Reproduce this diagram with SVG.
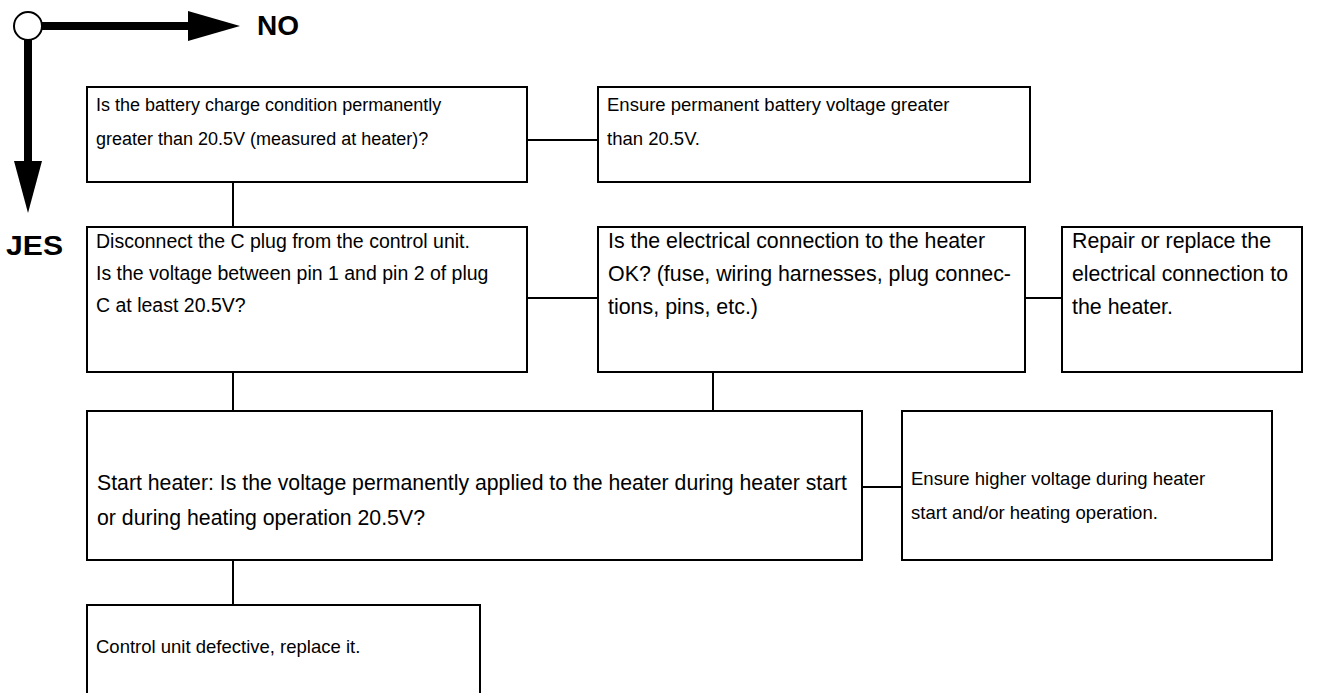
<svg xmlns="http://www.w3.org/2000/svg" width="1317" height="693" viewBox="0 0 1317 693">
<style>
.box{fill:#fff;stroke:#000;stroke-width:2}
.t{font-family:"Liberation Sans",Arial,sans-serif;font-size:18px;fill:#000}
.e{font-family:"Liberation Sans",Arial,sans-serif;font-size:18.5px;fill:#000}
.m{font-family:"Liberation Sans",Arial,sans-serif;font-size:19.5px;fill:#000}
.n{font-family:"Liberation Sans Narrow","Liberation Sans",Arial,sans-serif;font-size:22px;fill:#000}
.b{font-family:"Liberation Sans",Arial,sans-serif;font-size:28px;font-weight:bold;fill:#000}
.c{stroke:#000;stroke-width:2;fill:none}
.k{stroke:#000;stroke-width:8;fill:none}
</style>
<rect width="1317" height="693" fill="#fff"/>
<g id="legend">
<line class="k" x1="42" y1="26" x2="192" y2="26"/>
<polygon points="188,11 240,26 188,41" fill="#000"/>
<line class="k" x1="28" y1="40" x2="28" y2="165"/>
<polygon points="14,161 42,161 28,213" fill="#000"/>
<circle cx="28" cy="26" r="14" fill="#fff" stroke="#000" stroke-width="2"/>
<text class="b" x="257" y="35">NO</text>
<text class="b" x="6" y="255" textLength="57" lengthAdjust="spacingAndGlyphs">JES</text>
</g>
<g id="connectors">
<line class="c" x1="233" y1="182" x2="233" y2="227"/>
<line class="c" x1="527" y1="140" x2="598" y2="140"/>
<line class="c" x1="527" y1="298" x2="598" y2="298"/>
<line class="c" x1="1025" y1="298" x2="1062" y2="298"/>
<line class="c" x1="233" y1="372" x2="233" y2="411"/>
<line class="c" x1="713" y1="372" x2="713" y2="411"/>
<line class="c" x1="862" y1="487" x2="902" y2="487"/>
<line class="c" x1="233" y1="560" x2="233" y2="605"/>
</g>
<g id="n1">
<rect class="box" x="87" y="87" width="440" height="95"/>
<text class="t" x="96" y="111">Is the battery charge condition permanently</text>
<text class="t" x="96" y="145">greater than 20.5V (measured at heater)?</text>
</g>
<g id="n1no">
<rect class="box" x="598" y="87" width="432" height="95"/>
<text class="e" x="607" y="111">Ensure permanent battery voltage greater</text>
<text class="e" x="607" y="145">than 20.5V.</text>
</g>
<g id="n2">
<rect class="box" x="87" y="227" width="440" height="145"/>
<text class="m" x="96" y="248">Disconnect the C plug from the control unit.</text>
<text class="m" x="96" y="280">Is the voltage between pin 1 and pin 2 of plug</text>
<text class="m" x="96" y="312">C at least 20.5V?</text>
</g>
<g id="n3">
<rect class="box" x="598" y="227" width="427" height="145"/>
<text class="n" x="608" y="248" textLength="377" lengthAdjust="spacingAndGlyphs">Is the electrical connection to the heater</text>
<text class="n" x="608" y="281" textLength="403" lengthAdjust="spacingAndGlyphs">OK? (fuse, wiring harnesses, plug connec-</text>
<text class="n" x="608" y="314" textLength="150" lengthAdjust="spacingAndGlyphs">tions, pins, etc.)</text>
</g>
<g id="n3no">
<rect class="box" x="1062" y="227" width="240" height="145"/>
<text class="n" x="1072" y="248" textLength="199" lengthAdjust="spacingAndGlyphs">Repair or replace the</text>
<text class="n" x="1072" y="281" textLength="216" lengthAdjust="spacingAndGlyphs">electrical connection to</text>
<text class="n" x="1072" y="314" textLength="101" lengthAdjust="spacingAndGlyphs">the heater.</text>
</g>
<g id="n4">
<rect class="box" x="87" y="411" width="775" height="149"/>
<text class="n" x="97" y="490" textLength="750" lengthAdjust="spacingAndGlyphs">Start heater: Is the voltage permanently applied to the heater during heater start</text>
<text class="n" x="97" y="525" textLength="328" lengthAdjust="spacingAndGlyphs">or during heating operation 20.5V?</text>
</g>
<g id="n4no">
<rect class="box" x="902" y="411" width="370" height="149"/>
<text class="e" x="911" y="485">Ensure higher voltage during heater</text>
<text class="e" x="911" y="519">start and/or heating operation.</text>
</g>
<g id="n5">
<rect class="box" x="87" y="605" width="393" height="95"/>
<text class="e" x="96" y="653">Control unit defective, replace it.</text>
</g>
</svg>
